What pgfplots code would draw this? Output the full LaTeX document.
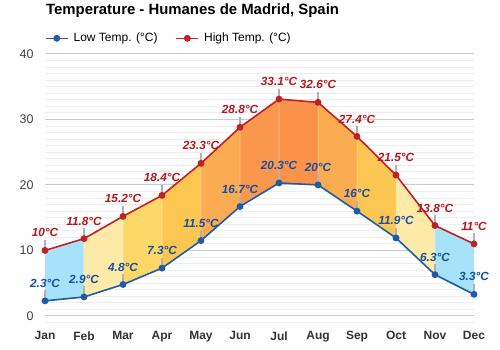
\documentclass[border=0pt]{standalone}
\usepackage{pgfplots}
\usepackage{pgfplotstable}
\pgfplotsset{compat=1.18}
\usepackage{fontspec}
\setmainfont{Liberation Sans}
\definecolor{lowc}{RGB}{31,91,166}
\definecolor{highc}{RGB}{192,32,40}
\definecolor{lowt}{RGB}{22,80,160}
\definecolor{hight}{RGB}{180,24,30}
\definecolor{cA}{RGB}{166,226,250}
\definecolor{cB}{RGB}{253,233,168}
\definecolor{cC}{RGB}{253,216,104}
\definecolor{cD}{RGB}{252,198,80}
\definecolor{cE}{RGB}{251,171,82}
\definecolor{cF}{RGB}{250,151,78}
\definecolor{cG}{RGB}{250,146,74}
\definecolor{cH}{RGB}{251,172,80}
\definecolor{cI}{RGB}{252,198,82}
\definecolor{cJ}{RGB}{253,233,168}
\definecolor{cK}{RGB}{166,226,250}
\pgfplotstableread{
x low high
0 2.3 10
1 2.9 11.8
2 4.8 15.2
3 7.3 18.4
4 11.5 23.3
5 16.7 28.8
6 20.3 33.1
7 20 32.6
8 16 27.4
9 11.9 21.5
10 6.3 13.8
11 3.3 11
}\data
\begin{document}
\begin{tikzpicture}
\begin{axis}[
  at={(0,0)}, anchor=south west,
  scale only axis, width=429pt, height=268.6pt,
  xmin=0, xmax=11, ymin=-1, ymax=40,
  clip=false,
  axis line style={draw=none},
  major tick length=0pt, minor tick length=0pt,
  xtick={0,...,11},
  xticklabels={Jan,Feb,Mar,Apr,May,Jun,Jul,Aug,Sep,Oct,Nov,Dec},
  ytick={0,10,20,30,40},
  minor ytick={-1,0,...,40},
  ymajorgrids, yminorgrids,
  major grid style={color=black!20, line width=0.9pt},
  minor grid style={color=black!7, line width=0.9pt},
  extra y ticks={0}, extra y tick labels={},
  extra y tick style={grid style={color=black!85, line width=1.1pt}},
  /pgf/number format/assume math mode=true,
  yticklabel style={font=\fontsize{12.5}{14}\selectfont, text=black!75, xshift=-8pt},
  xticklabel style={font=\bfseries\fontsize{12}{14}\selectfont, text=black!80, yshift=-5.5pt},
  title={Temperature - Humanes de Madrid, Spain},
  title style={at={(rel axis cs:0,1.137)}, anchor=west, inner sep=0pt, xshift=1pt, font=\bfseries\fontsize{14.9}{17}\selectfont},
  legend style={at={(rel axis cs:0,1.058)}, anchor=west, draw=none, fill=none, inner sep=0pt, outer sep=0pt, font=\fontsize{12}{14}\selectfont,
    /tikz/every odd column/.append style={column sep=3pt},
    /tikz/every even column/.append style={column sep=16pt}},
  legend columns=2, legend cell align=left,
  legend image code/.code={\draw[mark repeat=2, mark phase=2] plot coordinates {(0pt,0pt) (11pt,0pt) (22pt,0pt)};},
]
\addplot[fill=cA, draw=white, draw opacity=0.4, line width=0.5pt, forget plot] coordinates {(0,2.3) (1,2.9) (1,11.8) (0,10)} -- cycle;
\addplot[fill=cB, draw=white, draw opacity=0.4, line width=0.5pt, forget plot] coordinates {(1,2.9) (2,4.8) (2,15.2) (1,11.8)} -- cycle;
\addplot[fill=cC, draw=white, draw opacity=0.4, line width=0.5pt, forget plot] coordinates {(2,4.8) (3,7.3) (3,18.4) (2,15.2)} -- cycle;
\addplot[fill=cD, draw=white, draw opacity=0.4, line width=0.5pt, forget plot] coordinates {(3,7.3) (4,11.5) (4,23.3) (3,18.4)} -- cycle;
\addplot[fill=cE, draw=white, draw opacity=0.4, line width=0.5pt, forget plot] coordinates {(4,11.5) (5,16.7) (5,28.8) (4,23.3)} -- cycle;
\addplot[fill=cF, draw=white, draw opacity=0.4, line width=0.5pt, forget plot] coordinates {(5,16.7) (6,20.3) (6,33.1) (5,28.8)} -- cycle;
\addplot[fill=cG, draw=white, draw opacity=0.4, line width=0.5pt, forget plot] coordinates {(6,20.3) (7,20) (7,32.6) (6,33.1)} -- cycle;
\addplot[fill=cH, draw=white, draw opacity=0.4, line width=0.5pt, forget plot] coordinates {(7,20) (8,16) (8,27.4) (7,32.6)} -- cycle;
\addplot[fill=cI, draw=white, draw opacity=0.4, line width=0.5pt, forget plot] coordinates {(8,16) (9,11.9) (9,21.5) (8,27.4)} -- cycle;
\addplot[fill=cJ, draw=white, draw opacity=0.4, line width=0.5pt, forget plot] coordinates {(9,11.9) (10,6.3) (10,13.8) (9,21.5)} -- cycle;
\addplot[fill=cK, draw=white, draw opacity=0.4, line width=0.5pt, forget plot] coordinates {(10,6.3) (11,3.3) (11,11) (10,13.8)} -- cycle;
% stems
\addplot[only marks, mark=none, forget plot, error bars/.cd, y dir=plus, y fixed=1.6, error mark=none, error bar style={color=black!30, line width=1.3pt}] table[x=x,y=low]{\data};
\addplot[only marks, mark=none, forget plot, error bars/.cd, y dir=plus, y fixed=1.6, error mark=none, error bar style={color=black!30, line width=1.3pt}] table[x=x,y=high]{\data};
% lines
\addplot[lowc, line width=1.6pt, mark=*, mark size=2.6pt, mark options={fill=lowc, solid},
  nodes near coords={\pgfmathprintnumber{\pgfplotspointmeta}°C},
  every node near coord/.append style={anchor=center, yshift=17.5pt, inner sep=0pt, font=\bfseries\itshape\fontsize{11.8}{13}\selectfont, text=lowt}]
  table[x=x,y=low]{\data};
\addlegendentry{Low Temp. (°C)}
\addplot[highc, line width=1.6pt, mark=*, mark size=2.6pt, mark options={fill=highc, solid},
  nodes near coords={\pgfmathprintnumber{\pgfplotspointmeta}°C},
  every node near coord/.append style={anchor=center, yshift=17.5pt, inner sep=0pt, font=\bfseries\itshape\fontsize{11.8}{13}\selectfont, text=hight}]
  table[x=x,y=high]{\data};
\addlegendentry{High Temp. (°C)}
\end{axis}
\pgfresetboundingbox
\path[use as bounding box] (-45pt,-27.5pt) rectangle (455pt,322.5pt);
\end{tikzpicture}
\end{document}
